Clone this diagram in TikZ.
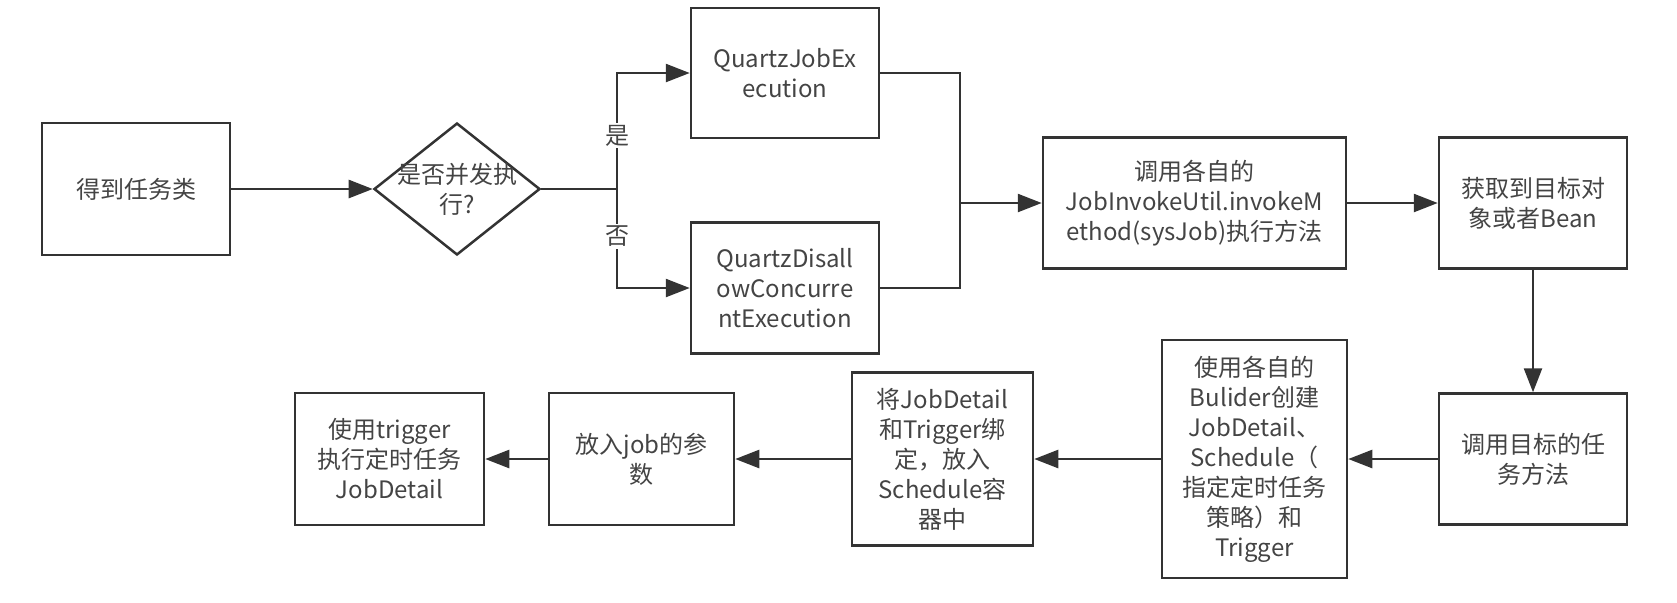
\documentclass[tikz,border=0pt]{standalone}
\usepackage{fontspec}
\setmainfont{Noto Sans CJK SC}
\usetikzlibrary{positioning, arrows.meta, shapes.geometric}

\definecolor{linegray}{HTML}{333333}
\definecolor{textgray}{HTML}{444444}

\begin{document}
\begin{tikzpicture}[
  x=0.5pt, y=-0.5pt,
  every node/.style={font=\fontsize{12pt}{15pt}\selectfont, text=textgray},
  box/.style={rectangle, draw=linegray, line width=1.25pt, align=center, inner sep=2pt},
  decision/.style={diamond, draw=linegray, line width=1.25pt, inner sep=0pt, minimum width=83pt, minimum height=66pt},
  line/.style={draw=linegray, line width=1.25pt},
  flow/.style={line, -{Triangle[length=12pt, width=9pt]}}
]
\useasboundingbox (0,0) rectangle (1677,602);

% ======================
% START / DECISION
% ======================
\node[box, minimum width=94pt, minimum height=66pt] (task) at (136,189) {得到任务类};

\node[decision, label={[align=center, font=\fontsize{12pt}{15pt}\selectfont, text=textgray]center:是否并发执\\行?}] (concurrent) at (457,189) {};

\coordinate (fork) at (617,189);

% ======================
% JOB CLASSES
% ======================
\node[box, minimum width=94pt, minimum height=65pt] (execution) at (785,73) {QuartzJobEx\\ecution};

\node[box, minimum width=94pt, minimum height=65.5pt] (disallow) at (785,288) {QuartzDisall\\owConcurre\\ntExecution};

\coordinate (join) at (960,203);

% ======================
% INVOKE
% ======================
\node[box, minimum width=151.5pt, minimum height=65.5pt] (invoke) at (1194.5,203) {调用各自的\\JobInvokeUtil.invokeM\\ethod(sysJob)执行方法};

\node[box, minimum width=94pt, minimum height=65.5pt] (target) at (1533,203) {获取到目标对\\象或者Bean};

\node[box, minimum width=94pt, minimum height=65.5pt] (method) at (1533,459) {调用目标的任\\务方法};

% ======================
% SCHEDULING
% ======================
\node[box, minimum width=92.5pt, minimum height=119pt] (builder) at (1254.5,459) {使用各自的\\Bulider创建\\JobDetail、\\Schedule（\\指定定时任务\\策略）和\\Trigger};

\node[box, minimum width=90.5pt, minimum height=86.5pt] (bind) at (942.5,459) {将JobDetail\\和Trigger绑\\定，放入\\Schedule容\\器中};

\node[box, minimum width=92.5pt, minimum height=66pt] (param) at (641.5,459) {放入job的参\\数};

\node[box, minimum width=94.5pt, minimum height=66pt] (trigger) at (389.5,459) {使用trigger\\执行定时任务\\JobDetail};

% ======================
% CONNECTIONS
% ======================
\draw[flow] (task) -- (concurrent);
\draw[line] (concurrent.east) -- (fork);
\draw[flow] (fork) |- node[pos=0.23, fill=white, inner sep=1pt]{是} (execution.west);
\draw[flow] (fork) |- node[pos=0.24, fill=white, inner sep=1pt]{否} (disallow.west);

\draw[line] (execution.east) -| (join);
\draw[line] (disallow.east) -| (join);
\draw[flow] (join) -- (invoke.west);

\draw[flow] (invoke) -- (target);
\draw[flow] (target) -- (method);
\draw[flow] (method) -- (builder);
\draw[flow] (builder) -- (bind);
\draw[flow] (bind) -- (param);
\draw[flow] (param) -- (trigger);

\end{tikzpicture}
\end{document}
